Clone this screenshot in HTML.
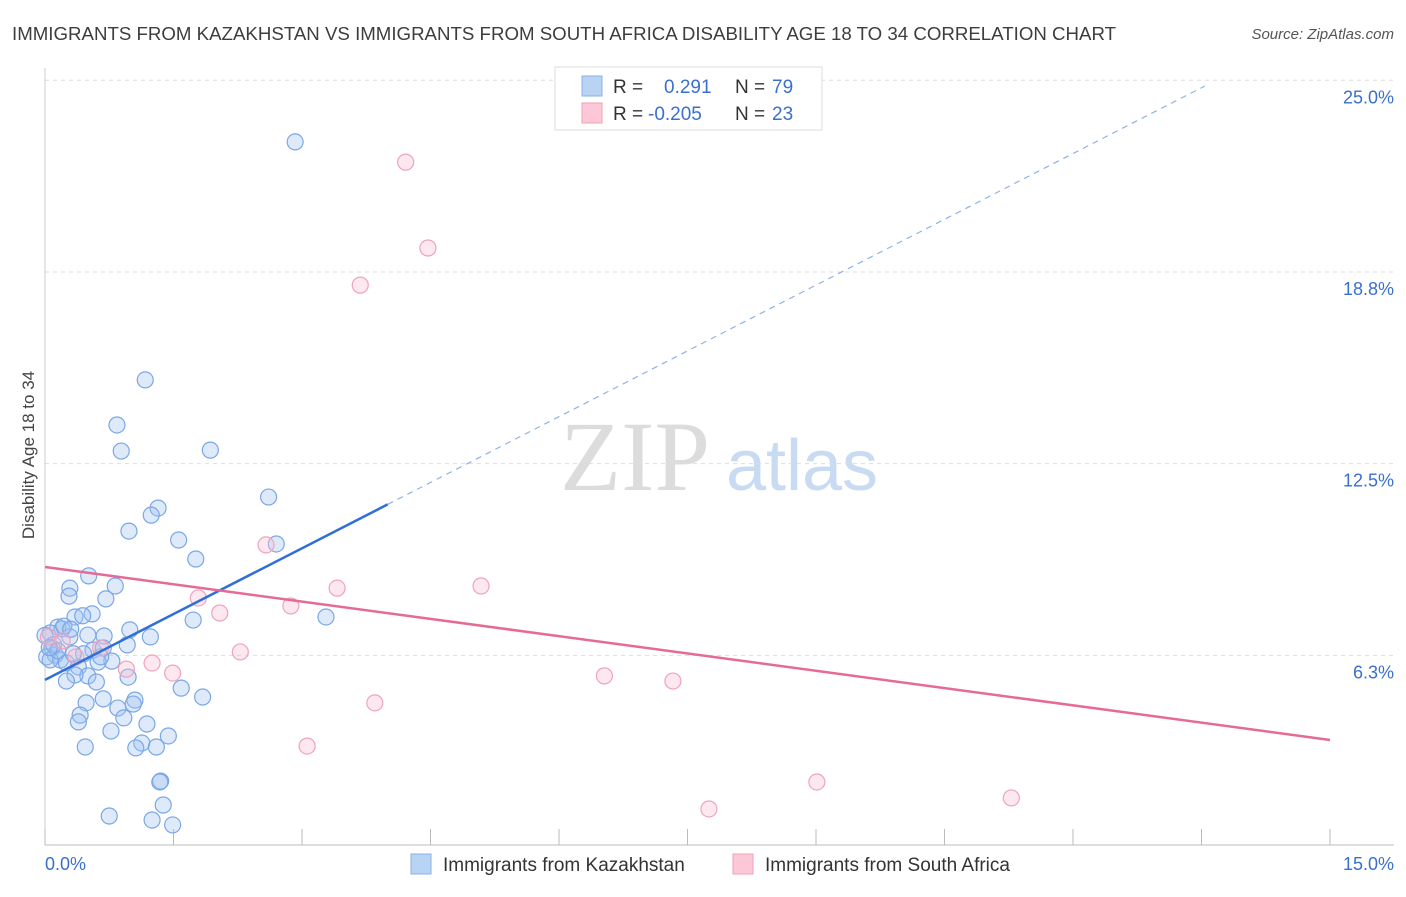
<!DOCTYPE html>
<html><head><meta charset="utf-8"><style>
body{margin:0;background:#fff;font-family:"Liberation Sans",sans-serif;}
</style></head><body>
<svg id="c" width="1406" height="892" font-family="Liberation Sans, sans-serif">
<text x="12" y="40" font-size="18.5" fill="#3d3d3d" textLength="1104" lengthAdjust="spacingAndGlyphs">IMMIGRANTS FROM KAZAKHSTAN VS IMMIGRANTS FROM SOUTH AFRICA DISABILITY AGE 18 TO 34 CORRELATION CHART</text>
<text x="1394" y="39" font-size="15" fill="#555" font-style="italic" text-anchor="end">Source: ZipAtlas.com</text>
<text x="34" y="455" font-size="17" fill="#444" text-anchor="middle" transform="rotate(-90 34 455)">Disability Age 18 to 34</text>
<g>
<text x="635" y="490" font-size="100" fill="#dcdcdc" font-family="Liberation Serif, serif" text-anchor="middle">ZIP</text>
<text x="802" y="490" font-size="72" fill="#c9dbf2" text-anchor="middle">atlas</text>
</g>
<g id="grid"></g><g id="marks"></g>
<g>
<rect x="555" y="67" width="267" height="63" fill="#fff" stroke="#ddd"/>
<rect x="582" y="76" width="20" height="20" fill="#b9d3f5" stroke="#8ab2e8"/>
<rect x="582" y="103" width="20" height="20" fill="#fcc8d8" stroke="#f0a0b8"/>
<text x="613" y="93" font-size="19" fill="#333">R =</text>
<text x="664" y="93" font-size="19" fill="#3a70cc">0.291</text>
<text x="735" y="93" font-size="19" fill="#333">N =</text>
<text x="772" y="93" font-size="19" fill="#3a70cc">79</text>
<text x="613" y="120" font-size="19" fill="#333">R =</text>
<text x="648" y="120" font-size="19" fill="#3a70cc">-0.205</text>
<text x="735" y="120" font-size="19" fill="#333">N =</text>
<text x="772" y="120" font-size="19" fill="#3a70cc">23</text>
</g>
<g>
<rect x="411" y="854" width="20" height="20" fill="#b9d3f5" stroke="#8ab2e8"/>
<text x="443" y="871" font-size="19" fill="#333">Immigrants from Kazakhstan</text>
<rect x="733" y="854" width="20" height="20" fill="#fcc8d8" stroke="#f0a0b8"/>
<text x="765" y="871" font-size="19" fill="#333">Immigrants from South Africa</text>
</g>
<text x="45" y="870" font-size="18" fill="#3a70cc">0.0%</text>
<text x="1394" y="870" font-size="18" fill="#3a70cc" text-anchor="end">15.0%</text>
</svg>
<script>
const yTicks=[25,18.75,12.5,6.25];
const yTickLabels=["25.0%","18.8%","12.5%","6.3%"];
const xTicks=[0,1.5,3,4.5,6,7.5,9,10.5,12,13.5,15];
const blueX=[2.92,1.17,0.84,0.89,1.93,2.61,1.32,1.24,0.98,1.56,1.76,2.70,0.51,0.29,0.82,0.28,0.71,0.55,0.35,0.44,3.28,1.73,0.15,0.20,0.99,1.23,0.50,0.69,0.29,0.96,0.06,0.08,0.56,0.68,0.12,0.02,0.18,0.78,0.62,0.25,0.39,0.50,0.35,0.97,0.25,0.60,1.59,1.84,0.68,1.05,1.03,0.48,0.85,0.41,0.92,0.39,1.19,0.77,1.44,1.13,1.06,0.47,1.30,1.35,1.34,1.38,0.75,1.25,1.49,0.06,0.22,0.00,0.10,0.30,0.45,0.65,0.15,0.05,0.33];
const blueY=[22.99,15.23,13.76,12.91,12.94,11.41,11.05,10.82,10.30,10.01,9.39,9.88,8.84,8.44,8.51,8.18,8.09,7.60,7.50,7.54,7.50,7.40,7.17,7.11,7.08,6.85,6.91,6.88,6.85,6.59,6.98,6.49,6.42,6.49,6.26,6.20,6.10,6.06,6.03,6.00,5.87,5.58,5.61,5.54,5.41,5.38,5.18,4.89,4.83,4.79,4.66,4.70,4.53,4.30,4.21,4.08,4.01,3.78,3.62,3.39,3.23,3.26,3.26,2.15,2.12,1.37,1.01,0.88,0.72,6.10,7.20,6.90,6.60,7.10,6.30,6.20,6.40,6.50,6.30];
const pinkX=[4.21,4.47,3.68,2.58,5.09,3.41,1.79,2.04,2.87,2.28,1.25,1.49,0.95,0.65,0.04,0.20,0.36,6.53,7.33,3.85,3.06,9.01,11.28,7.75];
const pinkY=[22.33,19.53,18.32,9.85,8.51,8.44,8.12,7.63,7.86,6.36,6.00,5.67,5.80,6.49,6.85,6.72,6.20,5.58,5.41,4.70,3.29,2.12,1.60,1.24];
const blueLine=[5.45,1.43]; // intercept, slope
const pinkLine=[9.13,-0.376];
const X=v=>45+v/15*1285, Y=v=>847-v*30.67;
const NS="http://www.w3.org/2000/svg";
function mk(t,a,p){const e=document.createElementNS(NS,t);for(const k in a)e.setAttribute(k,a[k]);p.appendChild(e);return e;}
const g=document.getElementById('grid'), m=document.getElementById('marks');
yTicks.forEach((t,i)=>{
 const l=mk('line',{x1:45,x2:1394,y1:Y(t),y2:Y(t),stroke:'#ddd','stroke-dasharray':'4,4'},g);
 
 
 const tx=mk('text',{x:1394,y:Y(t)+23,'font-size':18,fill:'#3a70cc','text-anchor':'end'},g);
 tx.textContent=yTickLabels[i];
 
 
});
const ax=mk('line',{x1:45,x2:1394,y1:845,y2:845,stroke:'#bbb'},g);


const ay=mk('line',{x1:45,x2:45,y1:68,y2:845,stroke:'#ccc'},g);


xTicks.forEach(t=>{
 const l=mk('line',{x1:X(t),x2:X(t),y1:829,y2:845,stroke:'#bbb'},g);
 
 
});
blueX.forEach((x,i)=>{
 const c=mk('circle',{cx:X(x),cy:Y(blueY[i]),r:8,fill:'rgba(160,195,240,0.35)',stroke:'#7aa7e6','stroke-width':1.2},m);
 
 
});
pinkX.forEach((x,i)=>{
 const c=mk('circle',{cx:X(x),cy:Y(pinkY[i]),r:8,fill:'rgba(250,190,210,0.35)',stroke:'#efa3bd','stroke-width':1.2},m);
 
 
});
const bx2=4.0, bxe=13.54;
const bl=mk('line',{x1:X(0),y1:Y(blueLine[0]),x2:X(bx2),y2:Y(blueLine[0]+blueLine[1]*bx2),stroke:'#2f6fd6','stroke-width':2.5},m);


const bd=mk('line',{x1:X(bx2),y1:Y(blueLine[0]+blueLine[1]*bx2),x2:X(bxe),y2:Y(blueLine[0]+blueLine[1]*bxe),stroke:'#8fb2e6','stroke-width':1.2,'stroke-dasharray':'6,5'},m);


const pl=mk('line',{x1:X(0),y1:Y(pinkLine[0]),x2:X(15),y2:Y(pinkLine[0]+pinkLine[1]*15),stroke:'#e56a98','stroke-width':2.5},m);


</script>
</body></html>
